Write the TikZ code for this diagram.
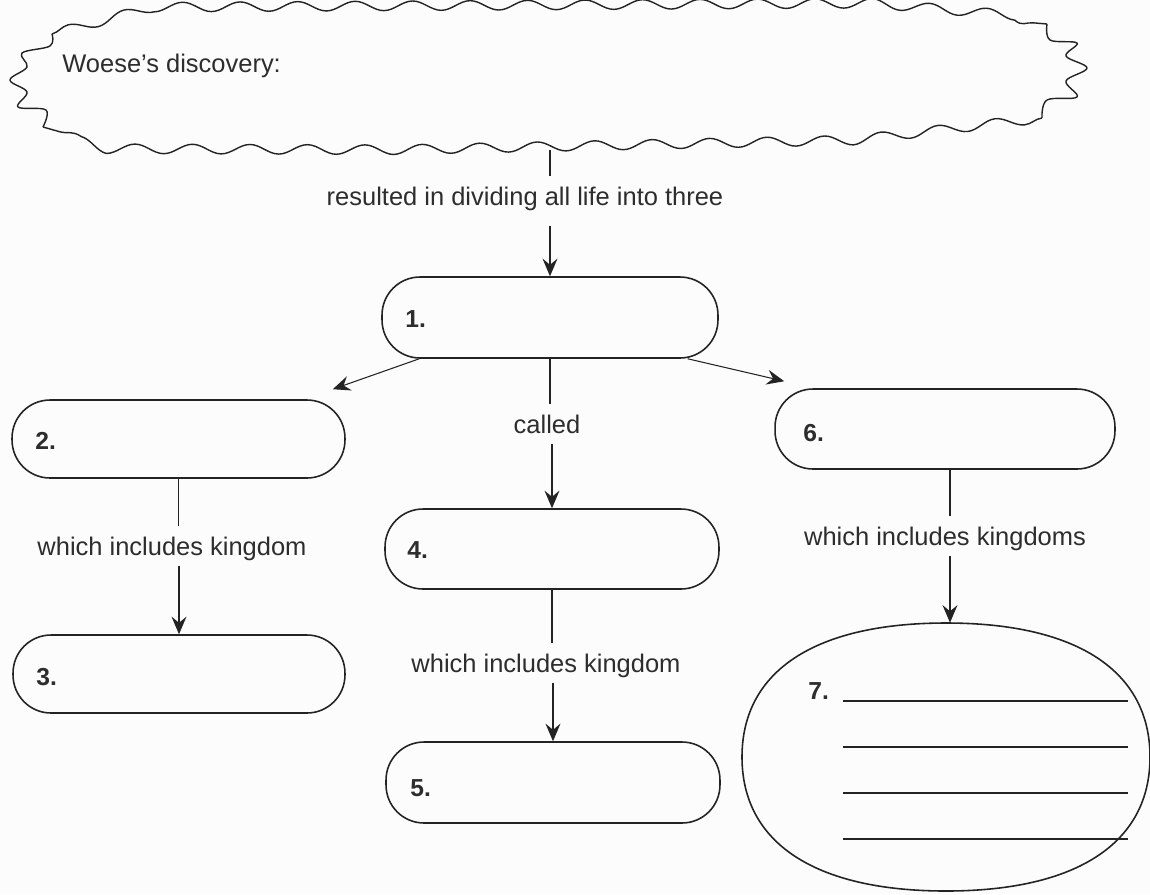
\documentclass[tikz,border=0pt]{standalone}
\usepackage{fontspec}
\setmainfont{Liberation Sans}
\usetikzlibrary{arrows.meta,decorations.pathmorphing,calc}
\definecolor{ink}{RGB}{35,35,35}
\definecolor{txt}{RGB}{45,45,45}
\definecolor{paper}{RGB}{252,252,252}
\begin{document}
\begin{tikzpicture}[x=0.02cm,y=-0.02cm,
  pill/.style={draw=ink, line width=0.9pt, rounded corners=0.76cm, minimum width=6.7cm, minimum height=1.6cm, inner sep=0pt},
  num/.style={font=\fontsize{14}{16}\selectfont\bfseries, text=txt, anchor=base west, inner sep=0pt},
  lbl/.style={font=\fontsize{14.5}{17}\selectfont, text=txt, anchor=base, inner xsep=0pt, inner ysep=0.21cm, text height=0.36cm, text depth=0cm},
  conn/.style={draw=ink, line width=0.6pt},
  arr/.style={conn, -{Stealth[length=10pt,width=8.5pt,inset=3.5pt]}},
  cloudline/.style={draw=ink, line width=0.8pt, line join=round},
  wave/.style={decorate, decoration={snake, segment length=1.15cm, amplitude=0.095cm}},
  blank/.style={draw=ink, line width=1pt}
]
\useasboundingbox (0,0) rectangle (1150,894);
\fill[paper] (0,0) rectangle (1150,894);

% cloud
\draw[cloudline, wave] (52,34) -- (135,12) -- (860,8) -- (1047,24);
\draw[cloudline] plot[smooth, tension=0.6] coordinates {(1047,24) (1050,40) (1077,43) (1066,56) (1087,68) (1066,81) (1077,97) (1047,100) (1042,118)};
\draw[cloudline, wave] (1042,118) -- (880,137) -- (400,147) -- (110,146) -- (43,127);
\draw[cloudline] plot[smooth, tension=0.6] coordinates {(43,127) (46,110) (18,107) (27,92) (10,80) (27,67) (22,53) (50,46) (52,34)};
\node[font=\fontsize{14.5}{17}\selectfont, text=txt, anchor=base west, inner sep=0pt] (woese) at (62,72) {Woese’s discovery:};
\coordinate (cloudbot) at (550,150);

% boxes
\node[pill, minimum width=6.72cm, minimum height=1.62cm] (b1) at (550,317.5) {};
\node[pill, minimum width=6.66cm, minimum height=1.56cm] (b2) at (178.5,439) {};
\node[pill, minimum width=6.64cm, minimum height=1.56cm] (b3) at (179,674) {};
\node[pill, minimum width=6.68cm, minimum height=1.6cm] (b4) at (552,549) {};
\node[pill, minimum width=6.68cm, minimum height=1.62cm] (b5) at (553,782.5) {};
\node[pill, minimum width=6.8cm, minimum height=1.6cm] (b6) at (945,429) {};
\node[minimum width=8.16cm, minimum height=5.36cm, inner sep=0pt] (b7) at (946,757) {};
\draw[draw=ink, line width=0.9pt] (946,623) .. controls (1077,623) and (1150,671) .. (1150,757)
  .. controls (1150,843) and (1077,891) .. (946,891)
  .. controls (815,891) and (742,843) .. (742,757)
  .. controls (742,671) and (815,623) .. (946,623) -- cycle;

% numbers
\node[num] (n1) at (405,327) {1.};
\node[num] (n2) at (35,449) {2.};
\node[num] (n3) at (36,685) {3.};
\node[num] (n4) at (407,558) {4.};
\node[num] (n5) at (410,796) {5.};
\node[num] (n6) at (803,441) {6.};
\node[num] (n7) at (808,699) {7.};

% blank lines in 7
\draw[blank] (843,701) -- (1128,701);
\draw[blank] (843,747) -- (1128,747);
\draw[blank] (843,793) -- (1128,793);
\draw[blank] (843,839) -- (1128,839);

% labels
\node[lbl, text depth=0.2cm] (l0) at (525,205) {resulted in dividing all life into three};
\node[lbl] (l1) at (547,433) {called};
\node[lbl] (l2) at (172,555) {which includes kingdom};
\node[lbl] (l4) at (546,672) {which includes kingdom};
\node[lbl] (l6) at (945,545) {which includes kingdoms};
\coordinate (c6) at (950,0);

% connectors
\draw[conn] (cloudbot) -- (cloudbot |- l0.north);
\draw[arr] (cloudbot |- l0.south) -- (b1.north);
\draw[conn] (b1.south) -- (b1.south |- l1.north);
\draw[arr] (b4.north |- l1.south) -- (b4.north);
\draw[conn] (b2.south) -- (b2.south |- l2.north);
\draw[arr] (b3.north |- l2.south) -- (b3.north);
\draw[conn] (b4.south) -- (b4.south |- l4.north);
\draw[arr] (b5.north |- l4.south) -- (b5.north);
\draw[conn] (c6 |- b6.south) -- (c6 |- l6.north);
\draw[arr] (c6 |- l6.south) -- (c6 |- b7.north);
\draw[arr] ([xshift=0.76cm]b1.south west) -- ($(b2.north east)+(-0.26cm,0.2cm)$);
\draw[arr] ([xshift=-0.62cm]b1.south east) -- ($(b6.north west)+(0.2cm,0.14cm)$);
\end{tikzpicture}
\end{document}
